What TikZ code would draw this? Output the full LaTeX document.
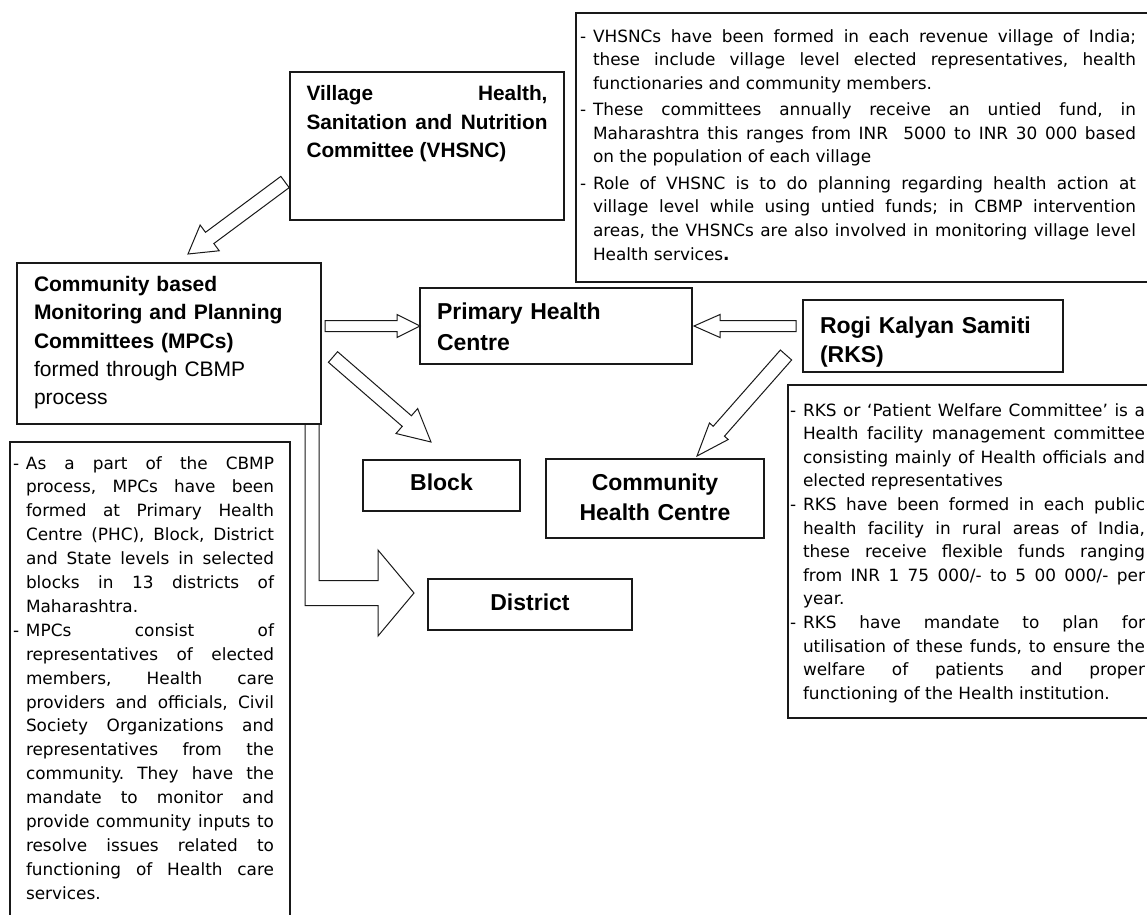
\documentclass[tikz,border=0pt]{standalone}
\usepackage{fontspec}
\setmainfont{Liberation Sans}
\newfontfamily\notefont{DejaVu Sans}
\usepackage{tikz}
\usetikzlibrary{calc,positioning}

% block arrow: from, to, shaft half width, head half width, head length
\newcommand{\fatarrow}[5]{%
  \coordinate (fa-b) at ($(#2)!#5!(#1)$);
  \draw[fat] ($(#1)!#3!90:(#2)$) -- ($(fa-b)!#3!90:(#2)$)
    -- ($(fa-b)!#4!90:(#2)$) -- (#2) -- ($(fa-b)!#4!-90:(#2)$)
    -- ($(fa-b)!#3!-90:(#2)$) -- ($(#1)!#3!-90:(#2)$) -- cycle;
}
\newcommand{\dashitem}{\noindent\hangindent=13pt\hangafter=1\makebox[13pt][l]{-}}
\newcommand{\notesetup}{\frenchspacing\tolerance=10000\hyphenpenalty=10000\exhyphenpenalty=10000\relax}

\begin{document}
\begin{tikzpicture}[x=1pt, y=-1pt,
  box/.style={draw=black!90, line width=1.3pt, anchor=north west, inner ysep=0pt,
    outer sep=0pt, font=\bfseries\fontsize{23}{30}\selectfont},
  note/.style={draw=black!90, line width=1.3pt, anchor=north west, inner ysep=0pt,
    outer sep=0pt, align=justify, font=\notefont\fontsize{16.9}{23.6}\selectfont},
  fat/.style={draw=black!90, line width=1pt, line join=miter}
]
\path[use as bounding box, fill=white] (0,0) rectangle (1147,914);

% labelled boxes
\node[box, font=\bfseries\fontsize{20.8}{28.5}\selectfont, align=justify, inner xsep=16.5pt,
  text width=241pt, text height=28.5pt, text depth=119.5pt] (vhsnc) at (290,72)
  {Village Health,\linebreak Sanitation and Nutrition\linebreak Committee (VHSNC)\par};
\node[box, font=\fontsize{21}{28.3}\selectfont, align=left, inner xsep=17pt,
  text width=270pt, text height=28.5pt, text depth=132.5pt] (mpc) at (17,263)
  {{\bfseries Community based\\Monitoring and Planning\\Committees (MPCs)}\\formed through CBMP\\process};
\node[box, font=\bfseries\fontsize{23}{31}\selectfont, align=left, inner xsep=17pt,
  text width=238pt, text height=31.3pt, text depth=44.7pt] (phc) at (420,288)
  {Primary Health\\Centre};
\node[box, font=\bfseries\fontsize{23}{29}\selectfont, align=left, inner xsep=17pt,
  text width=226pt, text height=33.3pt, text depth=38.7pt] (rks) at (803,300)
  {Rogi Kalyan Samiti\\(RKS)};
\node[box, align=center, inner xsep=0pt, text width=157pt,
  text height=30.3pt, text depth=20.7pt] (block) at (363,460) {Block};
\node[box, align=center, inner xsep=0pt, text width=218pt,
  text height=31.3pt, text depth=47.7pt] (chc) at (546,459) {Community\\Health Centre};
\node[box, align=center, inner xsep=0pt, text width=204pt,
  text height=31.3pt, text depth=19.7pt] (district) at (428,579) {District};

% notes
\node[note, inner xsep=4pt, text width=570pt, text height=29pt, text depth=240pt] (vnote) at (576,13)
  {\notesetup\rightskip=14pt\parskip=2.8pt
  \dashitem VHSNCs have been formed in each revenue village of India;\linebreak
  these include village level elected representatives, health\linebreak
  functionaries and community members.\par
  \dashitem These committees annually receive an untied fund, in\linebreak
  Maharashtra this ranges from INR~~5000 to INR 30~000 based\linebreak
  on the population of each village\par
  \dashitem Role of VHSNC is to do planning regarding health action at\linebreak
  village level while using untied funds; in CBMP intervention\linebreak
  areas, the VHSNCs are also involved in monitoring village level\linebreak
  Health services\textbf{.}\par};
\node[note, font=\notefont\fontsize{16.9}{23.9}\selectfont, inner xsep=3pt, text width=274pt,
  text height=27pt, text depth=500pt] (mnote) at (10,442)
  {\notesetup\rightskip=13pt
  \dashitem As a part of the CBMP\linebreak
  process, MPCs have been\linebreak
  formed at Primary Health\linebreak
  Centre (PHC), Block, District\linebreak
  and State levels in selected\linebreak
  blocks in 13 districts of\linebreak
  Maharashtra.\par
  \dashitem MPCs consist of\linebreak
  representatives of elected\linebreak
  members, Health care\linebreak
  providers and officials, Civil\linebreak
  Society Organizations and\linebreak
  representatives from the\linebreak
  community. They have the\linebreak
  mandate to monitor and\linebreak
  provide community inputs to\linebreak
  resolve issues related to\linebreak
  functioning of Health care\linebreak
  services.\par};
\node[note, inner xsep=2pt, text width=362pt, text height=31pt, text depth=302pt] (rnote) at (788,385)
  {\notesetup\rightskip=7pt
  \dashitem RKS or ‘Patient Welfare Committee’ is a\linebreak
  Health facility management committee\linebreak
  consisting mainly of Health officials and\linebreak
  elected representatives\par
  \dashitem RKS have been formed in each public\linebreak
  health facility in rural areas of India,\linebreak
  these receive flexible funds ranging\linebreak
  from INR 1~75~000/- to 5~00~000/- per\linebreak
  year.\par
  \dashitem RKS have mandate to plan for\linebreak
  utilisation of these funds, to ensure the\linebreak
  welfare of patients and proper\linebreak
  functioning of the Health institution.\par};

% block arrows
\coordinate (vh-out) at ($(vhsnc.west)+(-5,36)$);
\coordinate (mpc-in) at ($(mpc.north)+(19,-9)$);
\fatarrow{vh-out}{mpc-in}{7pt}{16pt}{27pt}
\coordinate (mp-out) at ($(mpc.east |- phc.west)+(4,0)$);
\fatarrow{mp-out}{phc.west}{5.5pt}{11.5pt}{23pt}
\coordinate (rk-out) at ($(rks.west |- phc.east)+(-7,0)$);
\coordinate (phc-in) at ($(phc.east)+(2,0)$);
\fatarrow{rk-out}{phc-in}{5.5pt}{11.5pt}{26pt}
\coordinate (mb-out) at ($(mpc.east)+(12,13.5)$);
\coordinate (blk-in) at ($(block.north)+(-10.5,-18)$);
\fatarrow{mb-out}{blk-in}{7pt}{16.5pt}{32pt}
\coordinate (rc-out) at ($(rks.south west)+(-17,-17)$);
\coordinate (chc-in) at ($(chc.north)+(42,-3)$);
\fatarrow{rc-out}{chc-in}{7.5pt}{12.5pt}{33pt}

% bent arrow down to district
\coordinate (dtop) at ($(mpc.south east)+(-9,0)$);
\coordinate (dtip) at ($(district.west)+(-14,-11.5)$);
\draw[fat] ($(dtop)+(-7,0)$) |- ($(dtip)+(-36,12.5)$) -- ++(0,30.5) -- (dtip)
  -- ($(dtip)+(-36,-43)$) -- ($(dtip)+(-36,-12.5)$) -| ($(dtop)+(7,0)$);
\end{tikzpicture}
\end{document}
